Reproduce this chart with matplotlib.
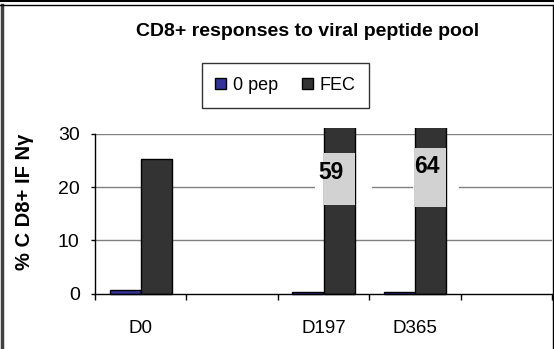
import matplotlib
matplotlib.use("Agg")
import matplotlib.pyplot as plt
import numpy as np
from matplotlib.lines import Line2D
from matplotlib.patches import Rectangle
from matplotlib.transforms import Bbox, TransformedBbox

plt.rcParams['font.family'] = ['Liberation Sans', 'DejaVu Sans']

categories = ["D0", "", "D197", "D365", ""]
pep0 = [0.7, np.nan, 0.4, 0.4, np.nan]
fec = [25.3, np.nan, 59, 64, np.nan]
series_names = ["0 pep", "FEC"]
title = "CD8+ responses to viral peptide pool"
ylabel = "% C D8+ IF N\u03b3"
yticks = [0, 10, 20, 30]

W, H = 554, 349
fig = plt.figure(figsize=(W / 100, H / 100), dpi=100)

def fx(px):
    return px / W

def fy(py):
    return 1 - py / H

ax = fig.add_axes([fx(95), fy(293.7), fx(552) - fx(95), fy(134) - fy(293.7)])
x = np.arange(len(categories))
bw = 0.34
ax.set_xlim(-0.5, len(categories) - 0.5)
ax.set_ylim(0, 30)

# gridlines
for yv in yticks[1:]:
    ax.axhline(yv, color="#808080", lw=1.0, zorder=0.5)

# white boxes interrupting gridline behind the break labels
ax.add_patch(Rectangle((2 - 0.09, 19.6), 0.62, 0.8, facecolor="white", edgecolor="none", zorder=1))
ax.add_patch(Rectangle((3 - 0.02, 19.6), 0.50, 0.8, facecolor="white", edgecolor="none", zorder=1))

clipbb = TransformedBbox(Bbox([[0, -0.05], [1, 1.035]]), ax.transAxes)
b1 = ax.bar(x - bw / 2, pep0, bw, color="#333399", edgecolor="black", lw=1.0, zorder=2, label=series_names[0])
b2 = ax.bar(x + bw / 2, fec, bw, color="#333333", edgecolor="black", lw=1.0, zorder=2, label=series_names[1])
for r in list(b1) + list(b2):
    r.set_clip_box(clipbb)

# axis breaks for off-scale bars
breaks = {2: (16.6, 26.4, 22.8, 0.079), 3: (16.2, 27.3, 23.9, 0.126)}
for i, (y0, y1, ty, dx) in breaks.items():
    ax.add_patch(Rectangle((x[i], y0), bw, y1 - y0, facecolor="#d2d2d2", edgecolor="none", zorder=3))
    ax.text(x[i] + dx, ty, f"{fec[i]:g}", ha="center", va="center", fontsize=16.5,
            fontweight="bold", zorder=4)

for s in ["top", "right"]:
    ax.spines[s].set_visible(False)
ax.spines["left"].set_linewidth(1.0)
ax.spines["bottom"].set_linewidth(1.0)
ax.spines["left"].set_zorder(5)
ax.spines["bottom"].set_zorder(5)

ax.set_yticks(yticks)
ax.tick_params(axis="y", length=3, width=1, pad=8, labelsize=14)
ax.set_xticks(x)
ax.set_xticklabels(categories)
ax.set_xticks(np.arange(-0.5, len(categories) + 0.5, 1.0), minor=True)
ax.tick_params(axis="x", which="major", length=0, pad=19, labelsize=13.5)
ax.tick_params(axis="x", which="minor", length=4, width=1)

fig.text(fx(25), fy(202), ylabel, rotation=90, ha="center", va="center",
         fontsize=14.5, fontweight="bold")
fig.text(fx(308), fy(32), title, ha="center", va="center", fontsize=14, fontweight="bold")

leg = fig.legend(handles=[b1, b2], labels=series_names, loc="center",
                 bbox_to_anchor=(fx(285.5), fy(85.5)), ncol=2, frameon=True,
                 fancybox=False, edgecolor="black", fontsize=13, handlelength=0.6,
                 handleheight=0.6, handletextpad=0.4, columnspacing=1.3,
                 borderpad=0.75)
leg.get_frame().set_linewidth(1.0)

# outer frames
fig.add_artist(Line2D([0, 1], [fy(1), fy(1)], transform=fig.transFigure, color="black", lw=1.5))
fig.add_artist(Line2D([fx(1.5), fx(1.5)], [0, fy(4.5)], transform=fig.transFigure, color="#404040", lw=2.5))
fig.add_artist(Line2D([fx(0), fx(553.5)], [fy(4.5), fy(4.5)], transform=fig.transFigure, color="black", lw=1.0))
fig.add_artist(Line2D([fx(553.2), fx(553.2)], [0, fy(4.5)], transform=fig.transFigure, color="black", lw=1.0))

fig.savefig("out.png", dpi=100)
